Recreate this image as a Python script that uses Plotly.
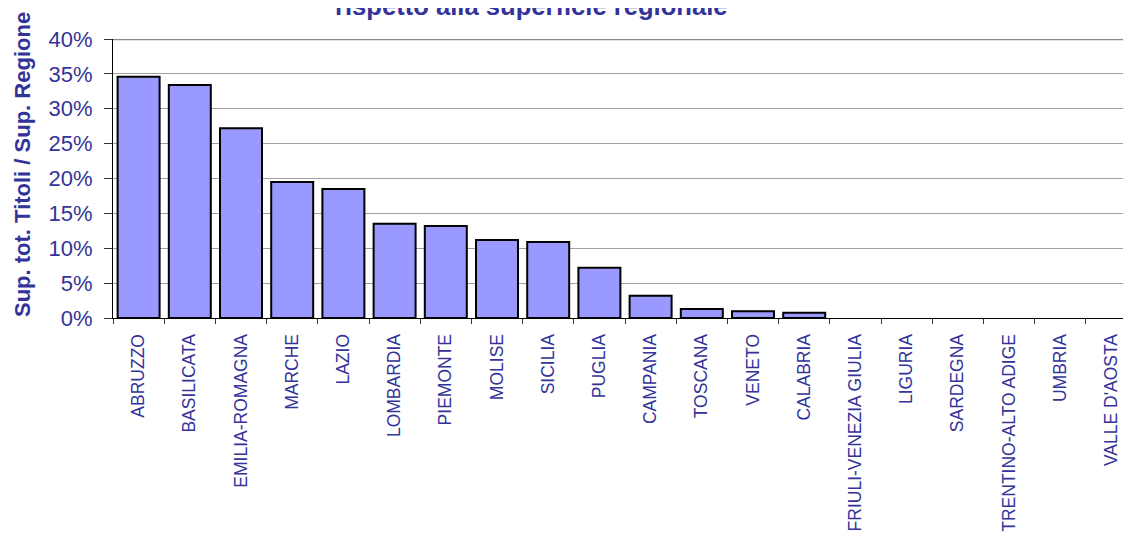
import plotly.graph_objects as go

regions = ["ABRUZZO", "BASILICATA", "EMILIA-ROMAGNA", "MARCHE", "LAZIO", "LOMBARDIA",
           "PIEMONTE", "MOLISE", "SICILIA", "PUGLIA", "CAMPANIA", "TOSCANA", "VENETO",
           "CALABRIA", "FRIULI-VENEZIA GIULIA", "LIGURIA", "SARDEGNA",
           "TRENTINO-ALTO ADIGE", "UMBRIA", "VALLE D'AOSTA"]
share = [0.346, 0.334, 0.272, 0.195, 0.185, 0.135, 0.132, 0.112, 0.109, 0.072,
         0.032, 0.013, 0.0095, 0.0075, 0, 0, 0, 0, 0, 0]
y_ticks = [0, 0.05, 0.10, 0.15, 0.20, 0.25, 0.30, 0.35, 0.40]
title_text = "rispetto alla superficie regionale"
y_title = "Sup. tot. Titoli / Sup. Regione"

# page body has an 8px margin, so the figure is offset by 8px on screen
OFF = 8
W, H = 1131 - OFF, 535 - OFF
ML, MT, MB = 113 - OFF, 39 - OFF, 217
PW = W - ML
PH = H - MT - MB

BLUE = "#333399"

fig = go.Figure(go.Bar(
    x=regions, y=share,
    marker=dict(color="#9999FF",
                line=dict(color="black", width=[2 if v > 0 else 0 for v in share])),
))

fig.update_layout(
    width=W, height=H,
    margin=dict(l=ML, r=0, t=MT, b=MB, pad=0, autoexpand=False),
    plot_bgcolor="white", paper_bgcolor="white",
    bargap=0.18, showlegend=False,
    font=dict(family="Liberation Sans, Arial, sans-serif", color=BLUE),
)

fig.update_xaxes(
    automargin=False,
    range=[-0.5, -0.5 + PW / 51.2],
    tickangle=-90,
    tickson="boundaries",
    ticks="outside", ticklen=5, tickcolor="#333333", tickwidth=1,
    showline=True, linecolor="black", linewidth=1,
    showgrid=False,
    tickfont=dict(family="Liberation Sans, Arial", size=17.5, color=BLUE),
    ticklabelstandoff=8,
)

fig.update_yaxes(
    automargin=False,
    range=[0, 0.40],
    tickvals=y_ticks, tickformat=".0%",
    ticks="outside", ticklen=8, tickcolor="#333333", tickwidth=1,
    showline=True, linecolor="black", linewidth=1,
    showgrid=True, gridcolor="#a0a0a0", gridwidth=1,
    zeroline=False,
    tickfont=dict(size=22, color=BLUE),
    ticklabelstandoff=7,
)

# top border line of plot area (40% gridline, heavier)
fig.add_shape(type="line", xref="paper", yref="y", x0=0, x1=1, y0=y_ticks[-1], y1=y_ticks[-1],
              line=dict(color="#888888", width=2.5))

fig.add_annotation(
    text="<b>" + title_text + "</b>", xref="paper", yref="paper",
    x=(531 - OFF - ML) / PW, y=1 + (MT + 2.2) / PH,
    xanchor="center", yanchor="middle", showarrow=False,
    font=dict(size=25.6, color=BLUE),
)

fig.add_annotation(
    text="<b>" + y_title + "</b>", xref="paper", yref="paper",
    x=(22 - OFF - ML) / PW, y=(H - MB - (165 - OFF)) / PH,
    xanchor="center", yanchor="middle", showarrow=False, textangle=-90,
    font=dict(size=22, color=BLUE),
)

fig.write_html("out.html")
